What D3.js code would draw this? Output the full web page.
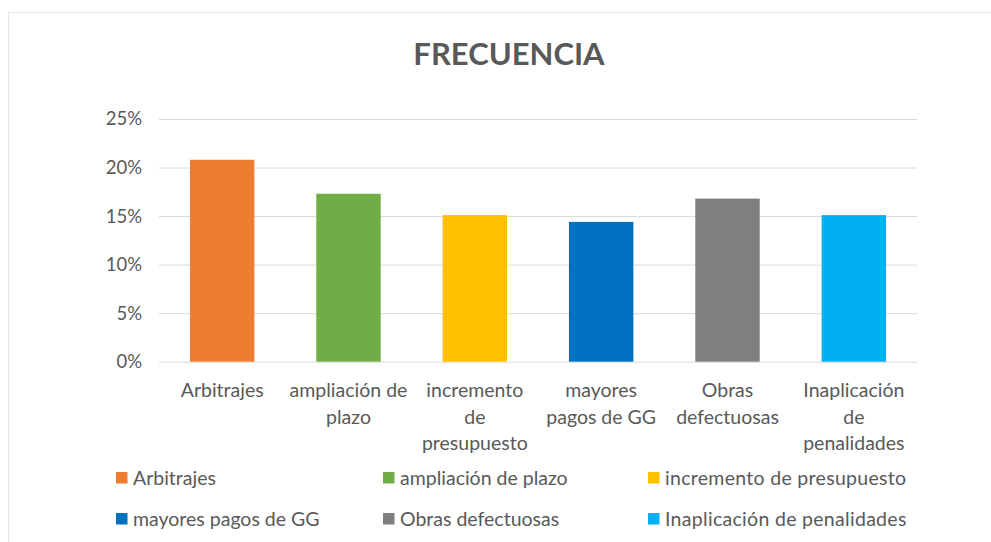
<!DOCTYPE html>
<html>
<head>
<meta charset="utf-8">
<script src="https://cdn.jsdelivr.net/npm/d3@7"></script>
<style>
  html, body { margin: 0; padding: 0; background: #fff; }
  svg { display: block; }
  text { font-family: Lato, "Open Sans", sans-serif; fill: #595959; }
</style>
</head>
<body>
<svg id="chart" width="991" height="542"></svg>
<script>
// ---- data ----
const categories = ["Arbitrajes", "ampliación de plazo", "incremento de presupuesto", "mayores pagos de GG", "Obras defectuosas", "Inaplicación de penalidades"];
const categoryLines = [["Arbitrajes"], ["ampliación de", "plazo"], ["incremento", "de", "presupuesto"], ["mayores", "pagos de GG"], ["Obras", "defectuosas"], ["Inaplicación", "de", "penalidades"]];
const values = [0.208, 0.173, 0.151, 0.144, 0.168, 0.151];
const colors = ["#ED7D31", "#70AD47", "#FFC000", "#0070C0", "#7F7F7F", "#00B0F0"];
const yTicks = [0, 0.05, 0.10, 0.15, 0.20, 0.25];
const title = "FRECUENCIA";

// ---- layout ----
const svg = d3.select("#chart");
const plot = { left: 159, right: 917, top: 119, bottom: 361.7 };

svg.append("rect")
  .attr("x", 8.5).attr("y", 12.5).attr("width", 1100).attr("height", 700)
  .attr("fill", "none").attr("stroke", "#e6e6e6").attr("stroke-width", 1);

const x = d3.scaleBand().domain(categories).range([plot.left, plot.right]).paddingInner(0.49).paddingOuter(0.245);
const y = d3.scaleLinear().domain([0, 0.25]).range([plot.bottom, plot.top]);

// gridlines
svg.append("g")
  .attr("transform", `translate(${plot.left},0)`)
  .call(d3.axisLeft(y).tickValues(yTicks).tickSize(-(plot.right - plot.left)).tickFormat(""))
  .call(g => g.select(".domain").remove())
  .call(g => g.selectAll("line").attr("stroke", "#d9d9d9").attr("stroke-width", 1));

// y axis labels
svg.append("g")
  .attr("transform", `translate(142,0)`)
  .call(d3.axisLeft(y).tickValues(yTicks).tickSize(0).tickPadding(0).tickFormat(d3.format(".0%")))
  .call(g => g.select(".domain").remove())
  .call(g => g.selectAll("text").attr("font-size", 18.5).attr("fill", "#595959").attr("font-family", "Lato, sans-serif"));

// bars
svg.append("g").selectAll("rect")
  .data(values)
  .join("rect")
  .attr("x", (d, i) => x(categories[i]))
  .attr("y", d => y(d))
  .attr("width", x.bandwidth())
  .attr("height", d => y(0) - y(d))
  .attr("fill", (d, i) => colors[i]);

// x axis labels
const xAxis = svg.append("g")
  .attr("transform", `translate(0,${plot.bottom})`)
  .call(d3.axisBottom(x).tickSize(0).tickFormat(""))
  .call(g => g.select(".domain").remove());
xAxis.selectAll(".tick text").each(function (d) {
  const i = categories.indexOf(d);
  const t = d3.select(this).attr("y", 0).attr("dy", null)
    .attr("font-size", 19.5).attr("fill", "#595959").attr("font-family", "Lato, sans-serif");
  categoryLines[i].forEach((line, k) => {
    t.append("tspan").attr("x", 0).attr("y", 35.5 + k * 26.5).text(line);
  });
});

// title
svg.append("text")
  .attr("x", 509).attr("y", 65)
  .attr("text-anchor", "middle")
  .attr("font-size", 31).attr("font-weight", "bold")
  .text(title);

// legend
const legendPos = [[116, 478], [383, 478], [648, 478], [116, 519], [383, 519], [648, 519]];
const legend = svg.append("g").selectAll("g")
  .data(categories)
  .join("g")
  .attr("transform", (d, i) => `translate(${legendPos[i][0]},${legendPos[i][1]})`);
legend.append("rect")
  .attr("x", 0).attr("y", -6).attr("width", 11.5).attr("height", 11.5)
  .attr("fill", (d, i) => colors[i]);
legend.append("text")
  .attr("x", 17).attr("y", 0).attr("dy", "0.35em")
  .attr("font-size", 19.5)
  .attr("letter-spacing", (d, i) => (i % 3 === 2 ? 0.3 : 0))
  .text(d => d);
</script>
</body>
</html>
